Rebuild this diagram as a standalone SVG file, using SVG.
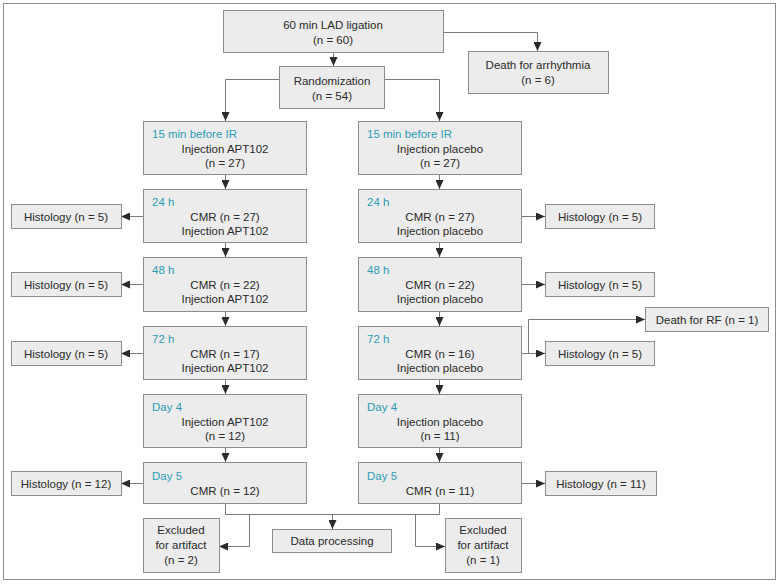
<svg xmlns="http://www.w3.org/2000/svg" width="779" height="584" viewBox="0 0 779 584">
<defs>
<marker id="ah" markerWidth="9" markerHeight="8" refX="9" refY="4" orient="auto" markerUnits="userSpaceOnUse">
<path d="M0,0 L9,4 L0,8 Z" fill="#2a2a2a"/>
</marker>
<style>
.box{fill:#ececec;stroke:#8c8c8c;stroke-width:1}
.t{font-family:"Liberation Sans",Arial,sans-serif;font-size:11.5px;fill:#2a2a2a;text-anchor:middle}
.lb{font-family:"Liberation Sans",Arial,sans-serif;font-size:11.5px;fill:#2b9db5}
.c{fill:none;stroke:#7a7a7a;stroke-width:1}
.a{marker-end:url(#ah)}
</style>
</defs>
<rect x="0" y="0" width="779" height="584" fill="#ffffff"/>
<rect x="3.5" y="3.5" width="772" height="576" fill="none" stroke="#8c8c8c" stroke-width="1"/>

<g id="connectors">
<path class="c a" d="M333.5,53 V66"/>
<path class="c a" d="M443,32.5 H537.5 V51"/>
<path class="c a" d="M279,79.5 H225.5 V121"/>
<path class="c a" d="M385,79.5 H439.5 V121"/>
<path class="c a" d="M225.5,175 V189"/>
<path class="c a" d="M439.5,175 V189"/>
<path class="c a" d="M225.5,243 V257"/>
<path class="c a" d="M439.5,243 V257"/>
<path class="c a" d="M225.5,312 V326"/>
<path class="c a" d="M439.5,312 V326"/>
<path class="c a" d="M225.5,380 V394"/>
<path class="c a" d="M439.5,380 V394"/>
<path class="c a" d="M225.5,448 V462"/>
<path class="c a" d="M439.5,448 V462"/>
<path class="c a" d="M143,216.5 H121"/>
<path class="c a" d="M143,284.5 H121"/>
<path class="c a" d="M143,353.5 H121"/>
<path class="c a" d="M143,483.5 H121"/>
<path class="c a" d="M521,216.5 H545"/>
<path class="c a" d="M521,284.5 H545"/>
<path class="c a" d="M521,353.5 H545"/>
<path class="c a" d="M528.5,353.5 V319.5 H645"/>
<path class="c a" d="M521,483.5 H545"/>
<path class="c" d="M225.5,504 V514.5 H439.5 V504"/>
<path class="c a" d="M332.5,514.5 V529"/>
<path class="c a" d="M249.5,514.5 V546.5 H219"/>
<path class="c a" d="M415.5,514.5 V546.5 H445"/>
</g>

<g id="ligation">
<rect class="box" x="223.5" y="10.5" width="220" height="42"/>
<text class="t" x="333" y="29">60 min LAD ligation</text>
<text class="t" x="333" y="44">(n = 60)</text>
</g>
<g id="death-arrhythmia">
<rect class="box" x="468.5" y="51.5" width="140" height="42"/>
<text class="t" x="538" y="69">Death for arrhythmia</text>
<text class="t" x="538" y="84">(n = 6)</text>
</g>
<g id="randomization">
<rect class="box" x="279.5" y="66.5" width="105" height="42"/>
<text class="t" x="332" y="85">Randomization</text>
<text class="t" x="332" y="100">(n = 54)</text>
</g>

<g id="apt-15min">
<rect class="box" x="143.5" y="121.5" width="163" height="53"/>
<text class="lb" x="152" y="138">15 min before IR</text>
<text class="t" x="225" y="153">Injection APT102</text>
<text class="t" x="225" y="167">(n = 27)</text>
</g>
<g id="pla-15min">
<rect class="box" x="358.5" y="121.5" width="163" height="53"/>
<text class="lb" x="367" y="138">15 min before IR</text>
<text class="t" x="440" y="153">Injection placebo</text>
<text class="t" x="440" y="167">(n = 27)</text>
</g>

<g id="apt-24h">
<rect class="box" x="143.5" y="189.5" width="163" height="53"/>
<text class="lb" x="152" y="206">24 h</text>
<text class="t" x="225" y="221">CMR (n = 27)</text>
<text class="t" x="225" y="235">Injection APT102</text>
</g>
<g id="pla-24h">
<rect class="box" x="358.5" y="189.5" width="163" height="53"/>
<text class="lb" x="367" y="206">24 h</text>
<text class="t" x="440" y="221">CMR (n = 27)</text>
<text class="t" x="440" y="235">Injection placebo</text>
</g>

<g id="apt-48h">
<rect class="box" x="143.5" y="257.5" width="163" height="54"/>
<text class="lb" x="152" y="274">48 h</text>
<text class="t" x="225" y="289">CMR (n = 22)</text>
<text class="t" x="225" y="303">Injection APT102</text>
</g>
<g id="pla-48h">
<rect class="box" x="358.5" y="257.5" width="163" height="54"/>
<text class="lb" x="367" y="274">48 h</text>
<text class="t" x="440" y="289">CMR (n = 22)</text>
<text class="t" x="440" y="303">Injection placebo</text>
</g>

<g id="apt-72h">
<rect class="box" x="143.5" y="326.5" width="163" height="53"/>
<text class="lb" x="152" y="343">72 h</text>
<text class="t" x="225" y="358">CMR (n = 17)</text>
<text class="t" x="225" y="372">Injection APT102</text>
</g>
<g id="pla-72h">
<rect class="box" x="358.5" y="326.5" width="163" height="53"/>
<text class="lb" x="367" y="343">72 h</text>
<text class="t" x="440" y="358">CMR (n = 16)</text>
<text class="t" x="440" y="372">Injection placebo</text>
</g>

<g id="apt-day4">
<rect class="box" x="143.5" y="394.5" width="163" height="53"/>
<text class="lb" x="152" y="411">Day 4</text>
<text class="t" x="225" y="426">Injection APT102</text>
<text class="t" x="225" y="440">(n = 12)</text>
</g>
<g id="pla-day4">
<rect class="box" x="358.5" y="394.5" width="163" height="53"/>
<text class="lb" x="367" y="411">Day 4</text>
<text class="t" x="440" y="426">Injection placebo</text>
<text class="t" x="440" y="440">(n = 11)</text>
</g>

<g id="apt-day5">
<rect class="box" x="143.5" y="462.5" width="163" height="41"/>
<text class="lb" x="152" y="480">Day 5</text>
<text class="t" x="225" y="495">CMR (n = 12)</text>
</g>
<g id="pla-day5">
<rect class="box" x="358.5" y="462.5" width="163" height="41"/>
<text class="lb" x="367" y="480">Day 5</text>
<text class="t" x="440" y="495">CMR (n = 11)</text>
</g>

<g id="hist-l-24h">
<rect class="box" x="11.5" y="204.5" width="110" height="24"/>
<text class="t" x="66" y="221">Histology (n = 5)</text>
</g>
<g id="hist-l-48h">
<rect class="box" x="11.5" y="272.5" width="110" height="24"/>
<text class="t" x="66" y="289">Histology (n = 5)</text>
</g>
<g id="hist-l-72h">
<rect class="box" x="11.5" y="341.5" width="110" height="24"/>
<text class="t" x="66" y="358">Histology (n = 5)</text>
</g>
<g id="hist-l-day5">
<rect class="box" x="11.5" y="471.5" width="110" height="24"/>
<text class="t" x="66" y="488">Histology (n = 12)</text>
</g>

<g id="hist-r-24h">
<rect class="box" x="545.5" y="204.5" width="109" height="24"/>
<text class="t" x="600" y="221">Histology (n = 5)</text>
</g>
<g id="hist-r-48h">
<rect class="box" x="545.5" y="272.5" width="109" height="24"/>
<text class="t" x="600" y="289">Histology (n = 5)</text>
</g>
<g id="death-rf">
<rect class="box" x="645.5" y="307.5" width="123" height="24"/>
<text class="t" x="707" y="324">Death for RF (n = 1)</text>
</g>
<g id="hist-r-72h">
<rect class="box" x="545.5" y="341.5" width="109" height="24"/>
<text class="t" x="600" y="358">Histology (n = 5)</text>
</g>
<g id="hist-r-day5">
<rect class="box" x="545.5" y="471.5" width="111" height="24"/>
<text class="t" x="601" y="488">Histology (n = 11)</text>
</g>

<g id="excluded-l">
<rect class="box" x="143.5" y="518.5" width="76" height="54"/>
<text class="t" x="181" y="534">Excluded</text>
<text class="t" x="181" y="549">for artifact</text>
<text class="t" x="181" y="564">(n = 2)</text>
</g>
<g id="data-processing">
<rect class="box" x="272.5" y="529.5" width="119" height="23"/>
<text class="t" x="332" y="545">Data processing</text>
</g>
<g id="excluded-r">
<rect class="box" x="445.5" y="518.5" width="76" height="54"/>
<text class="t" x="483" y="534">Excluded</text>
<text class="t" x="483" y="549">for artifact</text>
<text class="t" x="483" y="564">(n = 1)</text>
</g>
</svg>
